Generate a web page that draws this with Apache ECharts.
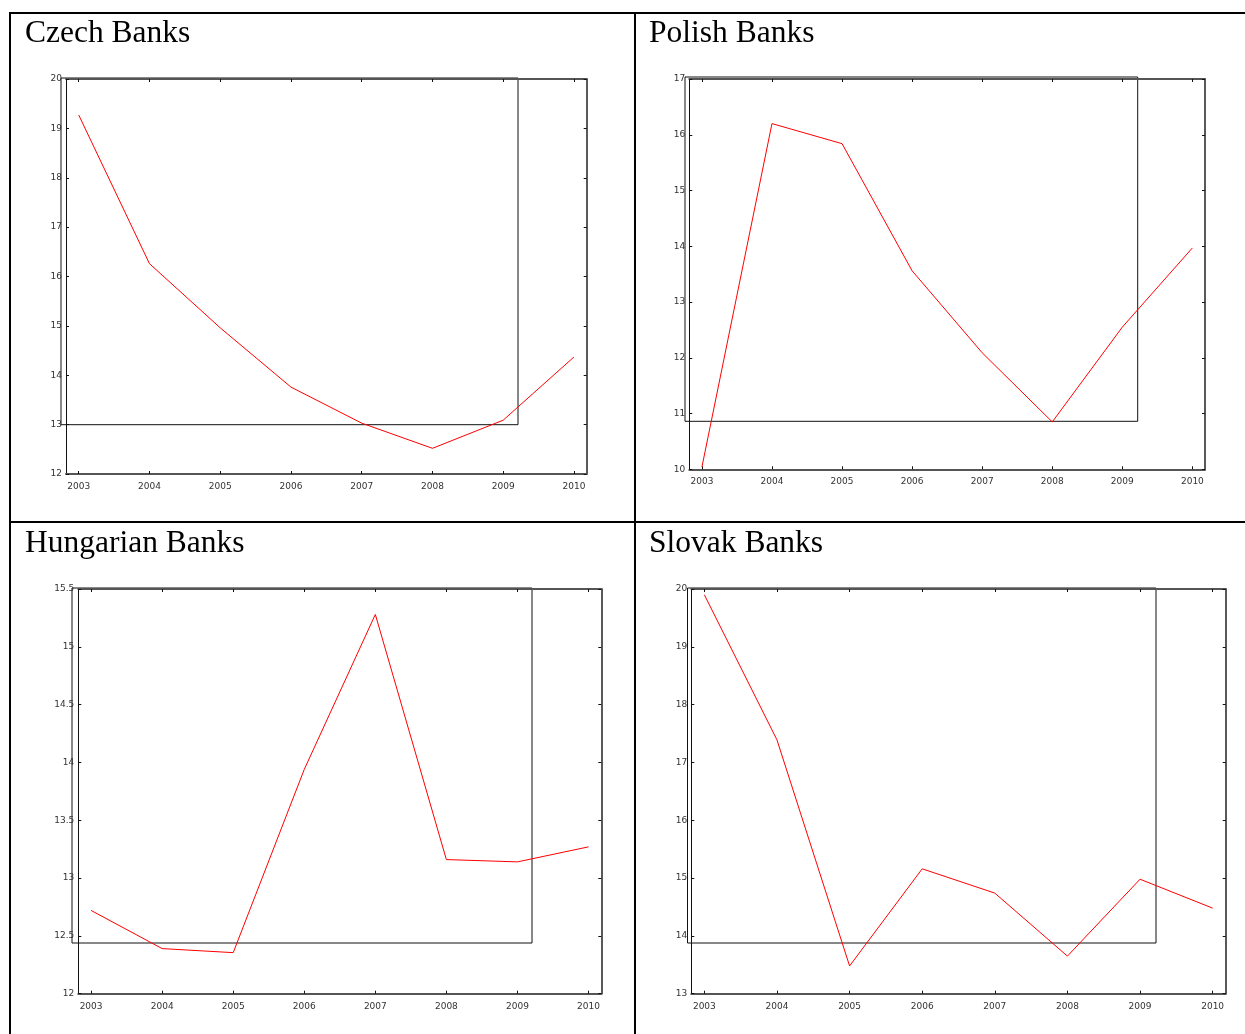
<!DOCTYPE html>
<html>
<head>
<meta charset="utf-8">
<script src="https://cdn.jsdelivr.net/npm/echarts@6/dist/echarts.min.js"></script>
<style>
  html, body { margin: 0; padding: 0; background: #fff; }
  #chart { width: 1245px; height: 1034px; }
</style>
</head>
<body>
<div id="chart"></div>
<script>
// data
const years = [2003, 2004, 2005, 2006, 2007, 2008, 2009, 2010];
const czechValues = [19.27, 16.26, 14.96, 13.76, 13.03, 12.52, 13.09, 14.37];
const polishValues = [10.04, 16.20, 15.84, 13.56, 12.09, 10.85, 12.55, 13.97];
const hungarianValues = [12.72, 12.39, 12.355, 13.94, 15.28, 13.16, 13.14, 13.27];
const slovakValues = [19.90, 17.39, 13.48, 15.16, 14.74, 13.65, 14.98, 14.48];

const panelTitles = ["Czech Banks", "Polish Banks", "Hungarian Banks", "Slovak Banks"];
const yMins = [12, 10, 12, 13];
const yMaxs = [20, 17, 15.5, 20];
const ySteps = [1, 1, 0.5, 1];

// layout of each panel (pixels)
const panels = [
  { title: [25, 18], grid: [66, 79, 520.7, 395], box: [61, 78, 457, 346.7] },
  { title: [649, 18], grid: [689.3, 79, 515.7, 390.3], box: [685, 77, 452.7, 344.3] },
  { title: [25, 528], grid: [78.3, 589, 523, 404.7], box: [72, 588, 460, 355] },
  { title: [649, 528], grid: [691.3, 589, 534.4, 404.7], box: [687.5, 588, 468.5, 355] },
];
const allValues = [czechValues, polishValues, hungarianValues, slovakValues];

const labelFont = { fontFamily: "DejaVu Sans", fontSize: 9, color: "#333" };

const option = {
  animation: false,
  backgroundColor: "#fff",
  title: [],
  grid: [],
  xAxis: [],
  yAxis: [],
  series: [],
  graphic: [],
};

panels.forEach((p, i) => {
  option.title.push({
    text: panelTitles[i],
    left: p.title[0],
    top: p.title[1],
    padding: 0,
    textStyle: { fontFamily: "Liberation Serif", fontSize: 31.5, fontWeight: "normal", color: "#000" },
  });

  // the plot grid
  option.grid.push({ left: p.grid[0], top: p.grid[1], width: p.grid[2], height: p.grid[3] });
  // the stray frame drawn over each plot
  option.grid.push({
    left: p.box[0], top: p.box[1], width: p.box[2], height: p.box[3],
    show: true, borderColor: "#111", borderWidth: 1, backgroundColor: "transparent",
  });

  const g = i * 2;
  const xBase = {
    type: "value",
    gridIndex: g,
    min: 2002.82,
    max: 2010.18,
    splitLine: { show: false },
    axisTick: { show: true, inside: true, length: 3, customValues: years, lineStyle: { color: "#111" } },
  };
  option.xAxis.push(Object.assign({}, xBase, {
    position: "bottom",
    axisLine: { lineStyle: { color: "#555", width: 2 } },
    axisLabel: Object.assign({ customValues: years, margin: 8, formatter: (v) => String(v) }, labelFont),
  }));
  option.xAxis.push(Object.assign({}, xBase, {
    position: "top",
    axisLine: { lineStyle: { color: "#555", width: 2 } },
    axisLabel: { show: false },
  }));
  // axes for the frame grid (hidden)
  option.xAxis.push({ type: "value", gridIndex: g + 1, show: false });

  const yBase = {
    type: "value",
    gridIndex: g,
    min: yMins[i],
    max: yMaxs[i],
    interval: ySteps[i],
    splitLine: { show: false },
    axisTick: { show: true, inside: true, length: 3, lineStyle: { color: "#111" } },
  };
  option.yAxis.push(Object.assign({}, yBase, {
    position: "left",
    axisLine: { show: true, lineStyle: { color: "#111", width: 1 } },
    axisLabel: Object.assign({ margin: 4, padding: [6, 0, 0, 0] }, labelFont),
  }));
  option.yAxis.push(Object.assign({}, yBase, {
    position: "right",
    axisLine: { show: true, lineStyle: { color: "#222", width: 1.5 } },
    axisLabel: { show: false },
  }));
  option.yAxis.push({ type: "value", gridIndex: g + 1, show: false });

  option.series.push({
    type: "line",
    xAxisIndex: i * 3,
    yAxisIndex: i * 3,
    data: years.map((y, k) => [y, allValues[i][k]]),
    showSymbol: false,
    symbol: "none",
    lineStyle: { color: "#ff0000", width: 1 },
  });
});

// table borders
const border = { stroke: "#000", lineWidth: 2 };
option.graphic = [
  { type: "line", shape: { x1: 9, y1: 13, x2: 1245, y2: 13 }, style: border },
  { type: "line", shape: { x1: 10, y1: 12, x2: 10, y2: 1034 }, style: border },
  { type: "line", shape: { x1: 635, y1: 12, x2: 635, y2: 1034 }, style: border },
  { type: "line", shape: { x1: 9, y1: 522, x2: 1245, y2: 522 }, style: border },
];

const chart = echarts.init(document.getElementById("chart"), null, { renderer: "canvas" });
chart.setOption(option);
</script>
</body>
</html>
